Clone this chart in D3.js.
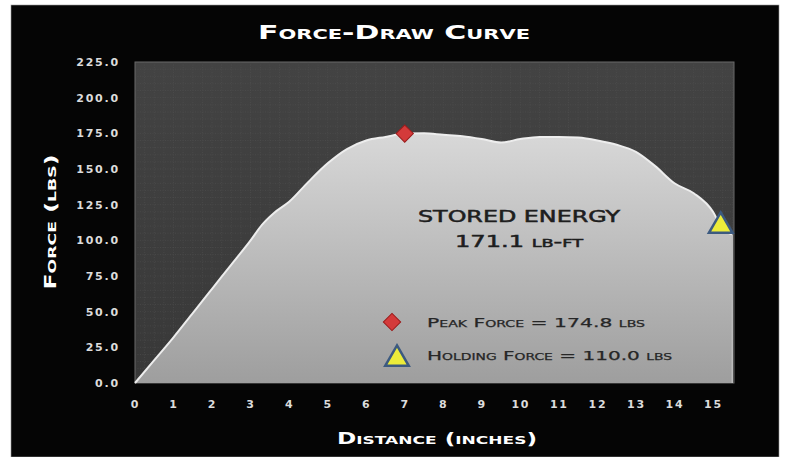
<!DOCTYPE html>
<html><head><meta charset="utf-8">
<script src="https://cdn.jsdelivr.net/npm/d3@7/dist/d3.min.js"></script>
<style>body{margin:0;background:#fff;overflow:hidden} svg{display:block}</style>
</head><body>
<script>
// ---- data ----
const distance = [0, 0.5, 1, 1.5, 2, 2.5, 3, 3.3, 3.6, 4, 4.5, 5, 5.5, 6, 6.5, 7, 7.5, 8, 8.5, 9, 9.5, 10, 10.5, 11, 11.5, 12, 12.5, 13, 13.5, 14, 14.5, 15, 15.2, 15.5];
const force    = [0, 16, 32, 49, 66, 83, 100, 111, 119, 127, 141, 154, 164, 170, 172.5, 174.8, 175, 174, 173, 171, 168.5, 171, 172.5, 172.5, 172, 170, 167, 162, 152, 140, 133, 120, 110, 104];
const xTicks = d3.range(0, 16);
const yTicks = [0, 25, 50, 75, 100, 125, 150, 175, 200, 225];
const peakPoint = {distance: 7, force: 174.8};
const holdPoint = {distance: 15.2, force: 110.0};
const storedEnergy = 171.1;

const W = 786, H = 457;
const svg = d3.select("body").append("svg").attr("width", W).attr("height", H);
const defs = svg.append("defs");

// frame
svg.append("rect").attr("x", 0).attr("y", 0).attr("width", W).attr("height", H).attr("fill", "#fff");
svg.append("rect").attr("x", 11).attr("y", 5).attr("width", 768).attr("height", H - 5).attr("fill", "#050505").attr("stroke", "#999").attr("stroke-width", 0.6);

const x = d3.scaleLinear().domain([0, 15]).range([135, 713]);
const y = d3.scaleLinear().domain([0, 225]).range([383, 62]);
const xMax = x.invert(734);

// plot background
const bg = defs.append("linearGradient").attr("id", "bg").attr("x1", 0).attr("y1", 0).attr("x2", 0).attr("y2", 1);
bg.append("stop").attr("offset", 0).attr("stop-color", "#434343");
bg.append("stop").attr("offset", 1).attr("stop-color", "#383838");
svg.append("rect").attr("x", x(0)).attr("y", y(225)).attr("width", x(xMax) - x(0)).attr("height", y(0) - y(225))
  .attr("fill", "url(#bg)").attr("stroke", "#6a6a6a").attr("stroke-width", 1);

// fine grid
const grid = svg.append("g").attr("stroke", "#555").attr("stroke-width", 0.5).attr("stroke-dasharray", "1,1.5");
grid.selectAll("line.v").data(d3.range(0.25, xMax, 0.25)).join("line")
  .attr("x1", d => x(d)).attr("x2", d => x(d)).attr("y1", y(225)).attr("y2", y(0));
grid.selectAll("line.h").data(d3.range(5, 225, 5)).join("line")
  .attr("y1", d => y(d)).attr("y2", d => y(d)).attr("x1", x(0)).attr("x2", x(xMax));

// area
const data = distance.map((d, i) => ({d, f: force[i]}));
const ag = defs.append("linearGradient").attr("id", "ag").attr("gradientUnits", "userSpaceOnUse")
  .attr("x1", 0).attr("y1", y(175)).attr("x2", 0).attr("y2", y(0));
ag.append("stop").attr("offset", 0).attr("stop-color", "#d8d8d8");
ag.append("stop").attr("offset", 1).attr("stop-color", "#9e9e9e");
const area = d3.area().x(p => x(p.d)).y0(y(0)).y1(p => y(p.f)).curve(d3.curveMonotoneX);
svg.append("path").datum(data).attr("d", area).attr("fill", "url(#ag)");
const line = d3.line().x(p => x(p.d)).y(p => y(p.f)).curve(d3.curveMonotoneX);
svg.append("path").datum(data).attr("d", line).attr("fill", "none").attr("stroke", "#ededed").attr("stroke-width", 2);
svg.append("line").attr("x1", x(distance[distance.length-1])).attr("x2", x(distance[distance.length-1]))
  .attr("y1", y(force[force.length-1])).attr("y2", y(0)).attr("stroke", "#bbb").attr("stroke-width", 1.5);

// axes
const tickFont = "'DejaVu Sans', sans-serif";
const yAxis = svg.append("g").attr("transform", `translate(${x(0) - 1},0)`)
  .call(d3.axisLeft(y).tickValues(yTicks).tickFormat(d3.format(".1f")).tickSize(0).tickPadding(14));
const xAxis = svg.append("g").attr("transform", `translate(0,${y(0)})`)
  .call(d3.axisBottom(x).tickValues(xTicks).tickFormat(d3.format("d")).tickSize(0).tickPadding(17));
[yAxis, xAxis].forEach(a => {
  a.select(".domain").remove();
  a.selectAll("text").attr("fill", "#dcdcdc").attr("font-family", tickFont).attr("font-weight", "bold")
    .attr("font-size", 11).attr("letter-spacing", 1.8);
});

// titles
function sc(sel) { return sel.style("font-variant", "small-caps").attr("font-family", tickFont).attr("font-weight", "bold"); }
sc(svg.append("text").attr("x", 394).attr("y", 39).attr("text-anchor", "middle").attr("fill", "#fff")
  .attr("font-size", 20).attr("textLength", 272).attr("lengthAdjust", "spacingAndGlyphs").text("Force-Draw Curve"));
sc(svg.append("text").attr("transform", "translate(56,222) rotate(-90)").attr("text-anchor", "middle").attr("fill", "#fff")
  .attr("font-size", 15).attr("textLength", 135).attr("lengthAdjust", "spacingAndGlyphs").text("Force (lbs)"));
sc(svg.append("text").attr("x", 437).attr("y", 444).attr("text-anchor", "middle").attr("fill", "#fff")
  .attr("font-size", 15).attr("textLength", 200).attr("lengthAdjust", "spacingAndGlyphs").text("Distance (inches)"));

// stored energy
svg.append("text").attr("x", 519).attr("y", 222).attr("text-anchor", "middle").attr("fill", "#1e1e1e")
  .attr("stroke", "#1e1e1e").attr("stroke-width", 0.5)
  .attr("font-family", tickFont).attr("font-size", 15)
  .attr("textLength", 202).attr("lengthAdjust", "spacingAndGlyphs").text("STORED ENERGY");
const se = svg.append("text").attr("x", 519).attr("y", 247).attr("text-anchor", "middle").attr("fill", "#1e1e1e")
  .attr("stroke", "#1e1e1e").attr("stroke-width", 0.5)
  .attr("font-family", tickFont).attr("font-size", 15)
  .attr("textLength", 128).attr("lengthAdjust", "spacingAndGlyphs");
se.append("tspan").text(storedEnergy.toFixed(1) + " ");
se.append("tspan").style("font-variant", "small-caps").text("lb-ft");

// markers
const diamond = d3.symbol().type(d3.symbolSquare).size(150);
const tri = d3.symbol().type(d3.symbolTriangle).size(240);
function drawDiamond(cx, cy) {
  svg.append("path").attr("d", diamond()).attr("transform", `translate(${cx},${cy}) rotate(45)`)
    .attr("fill", "#d43a3a").attr("stroke", "#9a1c1c").attr("stroke-width", 1);
}
function drawTri(cx, cy) {
  svg.append("path").attr("d", tri()).attr("transform", `translate(${cx},${cy})`)
    .attr("fill", "#ecec3a").attr("stroke", "#3c5a80").attr("stroke-width", 2.5).attr("stroke-linejoin", "miter");
}
drawDiamond(x(peakPoint.distance), y(peakPoint.force));
drawTri(x(holdPoint.distance), y(holdPoint.force));

// legend
drawDiamond(392, 322);
drawTri(397, 359);
svg.append("text").attr("x", 427).attr("y", 327).attr("fill", "#262626").style("font-variant", "small-caps")
  .attr("font-family", tickFont).attr("font-size", 13).attr("stroke", "#262626").attr("stroke-width", 0.25)
  .attr("textLength", 218).attr("lengthAdjust", "spacingAndGlyphs")
  .text(`Peak Force = ${peakPoint.force.toFixed(1)} lbs`);
svg.append("text").attr("x", 427).attr("y", 360).attr("fill", "#262626").style("font-variant", "small-caps")
  .attr("font-family", tickFont).attr("font-size", 13).attr("stroke", "#262626").attr("stroke-width", 0.25)
  .attr("textLength", 245).attr("lengthAdjust", "spacingAndGlyphs")
  .text(`Holding Force = ${holdPoint.force.toFixed(1)} lbs`);
</script>
</body></html>
